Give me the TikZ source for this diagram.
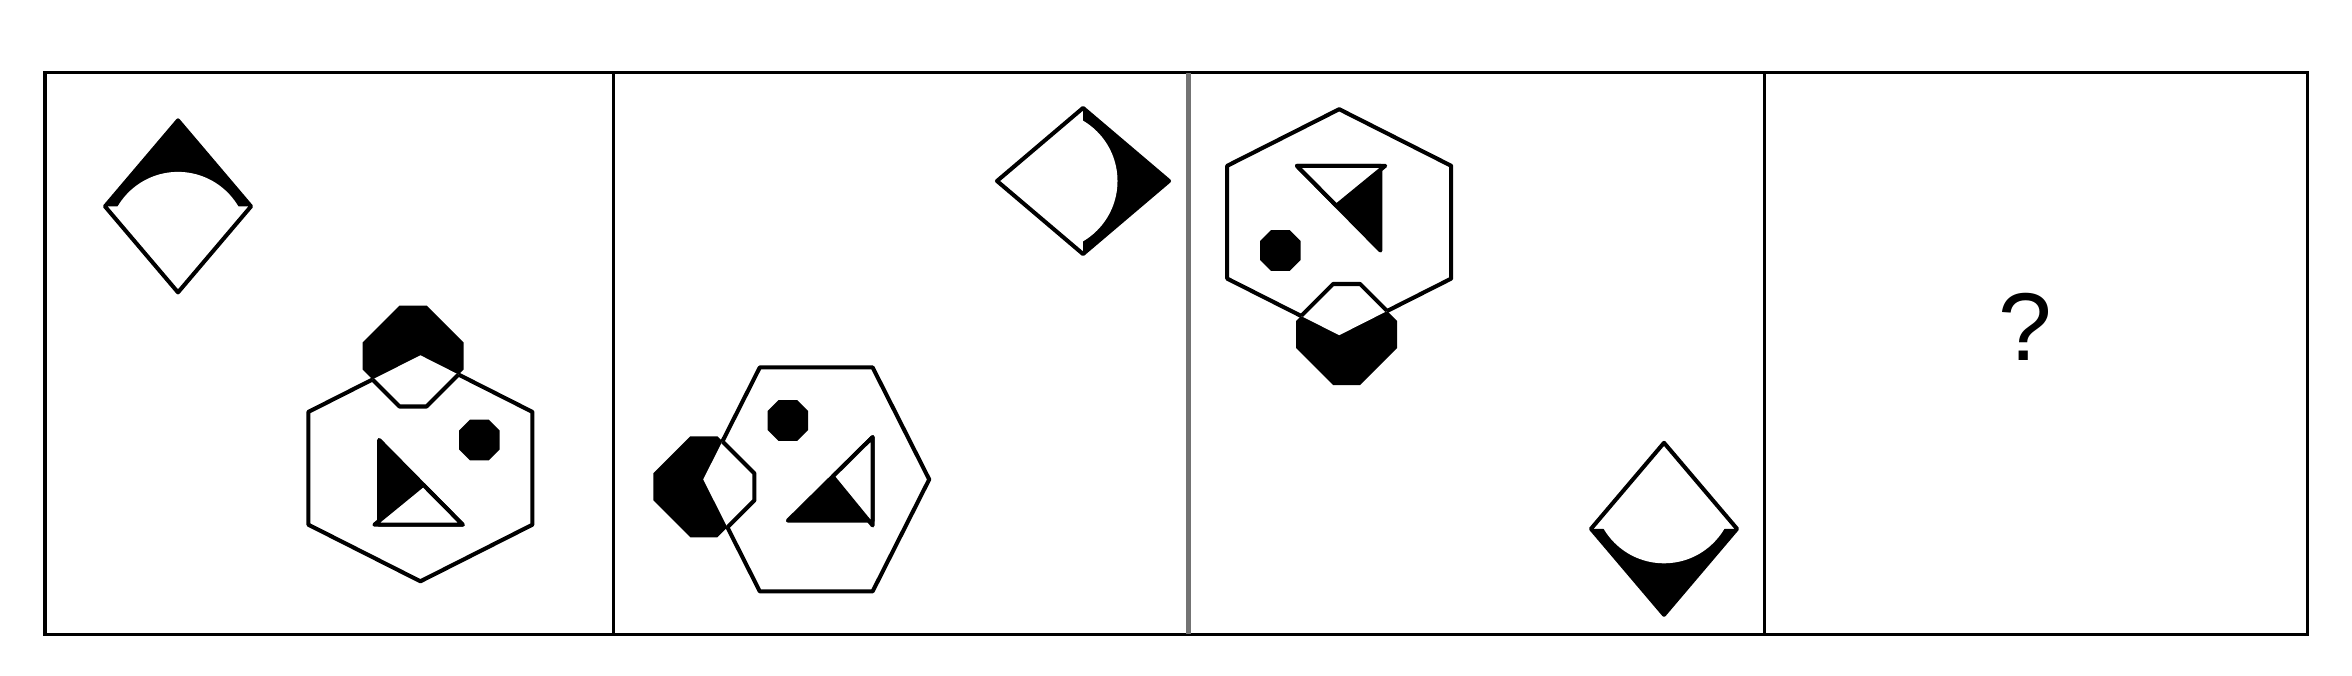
\documentclass[tikz,border=0pt]{standalone}
\usepackage{fontspec}
\setmainfont{Liberation Sans}
% octagon: centre (#1,#2), half-width #3, half-flat #4
\newcommand\myoct[4]{({#1+#4},{#2-#3}) -- ({#1+#3},{#2-#4}) -- ({#1+#3},{#2+#4}) -- ({#1+#4},{#2+#3}) -- ({#1-#4},{#2+#3}) -- ({#1-#3},{#2+#4}) -- ({#1-#3},{#2-#4}) -- ({#1-#4},{#2-#3}) -- cycle}
\newcommand\myhex{(0,-113) -- (112,-56.4) -- (112,56.4) -- (0,113) -- (-112,56.4) -- (-112,-56.4) -- cycle}
\newcommand\myrhomb{(0,-86) -- (73,0) -- (0,86) -- (-73,0) -- cycle}
\newcommand\myrhombtop{(0,-86) -- (73,0) -- (-73,0) -- cycle}
\tikzset{
  frameline/.style={line width=1pt, draw=black},
  shapeline/.style={line width=1.15pt, line join=round, draw=black},
  hexgroup/.pic={
    \fill[white] \myhex;
    \draw[shapeline] \myhex;
    \fill[black] \myoct{-7.4}{-112.3}{50.5}{13.5};
    \begin{scope}
      \clip \myhex;
      \fill[white] \myoct{-7.4}{-112.3}{50.5}{13.5};
      \draw[shapeline] \myoct{-7.4}{-112.3}{50.5}{13.5};
    \end{scope}
    \fill[black] \myoct{58.9}{-28.3}{20.3}{9.5};
    \filldraw[shapeline, fill=black] (-41.2,-28.3) -- (-41.2,56.4) -- (42.3,56.4) -- cycle;
    \filldraw[shapeline, fill=white] (-46,56.4) -- (2.8,16.5) -- (42.3,56.4) -- cycle;
  },
  diamondgroup/.pic={
    \fill[white] \myrhomb;
    \fill[black] \myrhombtop;
    \begin{scope}
      \clip \myrhomb;
      \fill[white] (0,35.5) circle (70);
    \end{scope}
    \draw[shapeline] \myrhomb;
  }
}
\begin{document}
\begin{tikzpicture}[x=0.01cm,y=-0.01cm]
\useasboundingbox (0,0) rectangle (2352,676);
\fill[white] (0,0) rectangle (2352,676);
% frame and dividers
\draw[frameline] (45,72.7) rectangle (2307.3,634.3);
\draw[frameline] (613.3,72.7) -- (613.3,634.3);
\draw[frameline, draw=black!55, line width=1.3pt] (1188.3,72.7) -- (1188.3,634.3);
\draw[frameline] (1764.3,72.7) -- (1764.3,634.3);
% panel 1
\pic at (178,206.4) {diamondgroup};
\pic at (420.4,468.3) {hexgroup};
% panel 2
\pic[rotate=-90] at (1083,181) {diamondgroup};
\pic[rotate=90] at (816.2,479.4) {hexgroup};
% panel 3
\pic[rotate=180] at (1664,528.8) {diamondgroup};
\pic[rotate=180] at (1339.2,222.2) {hexgroup};
% panel 4
\node[font=\fontsize{27.4}{30}\selectfont, inner sep=0pt] (qmark) at (2025.5,327) {?};
\end{tikzpicture}
\end{document}
